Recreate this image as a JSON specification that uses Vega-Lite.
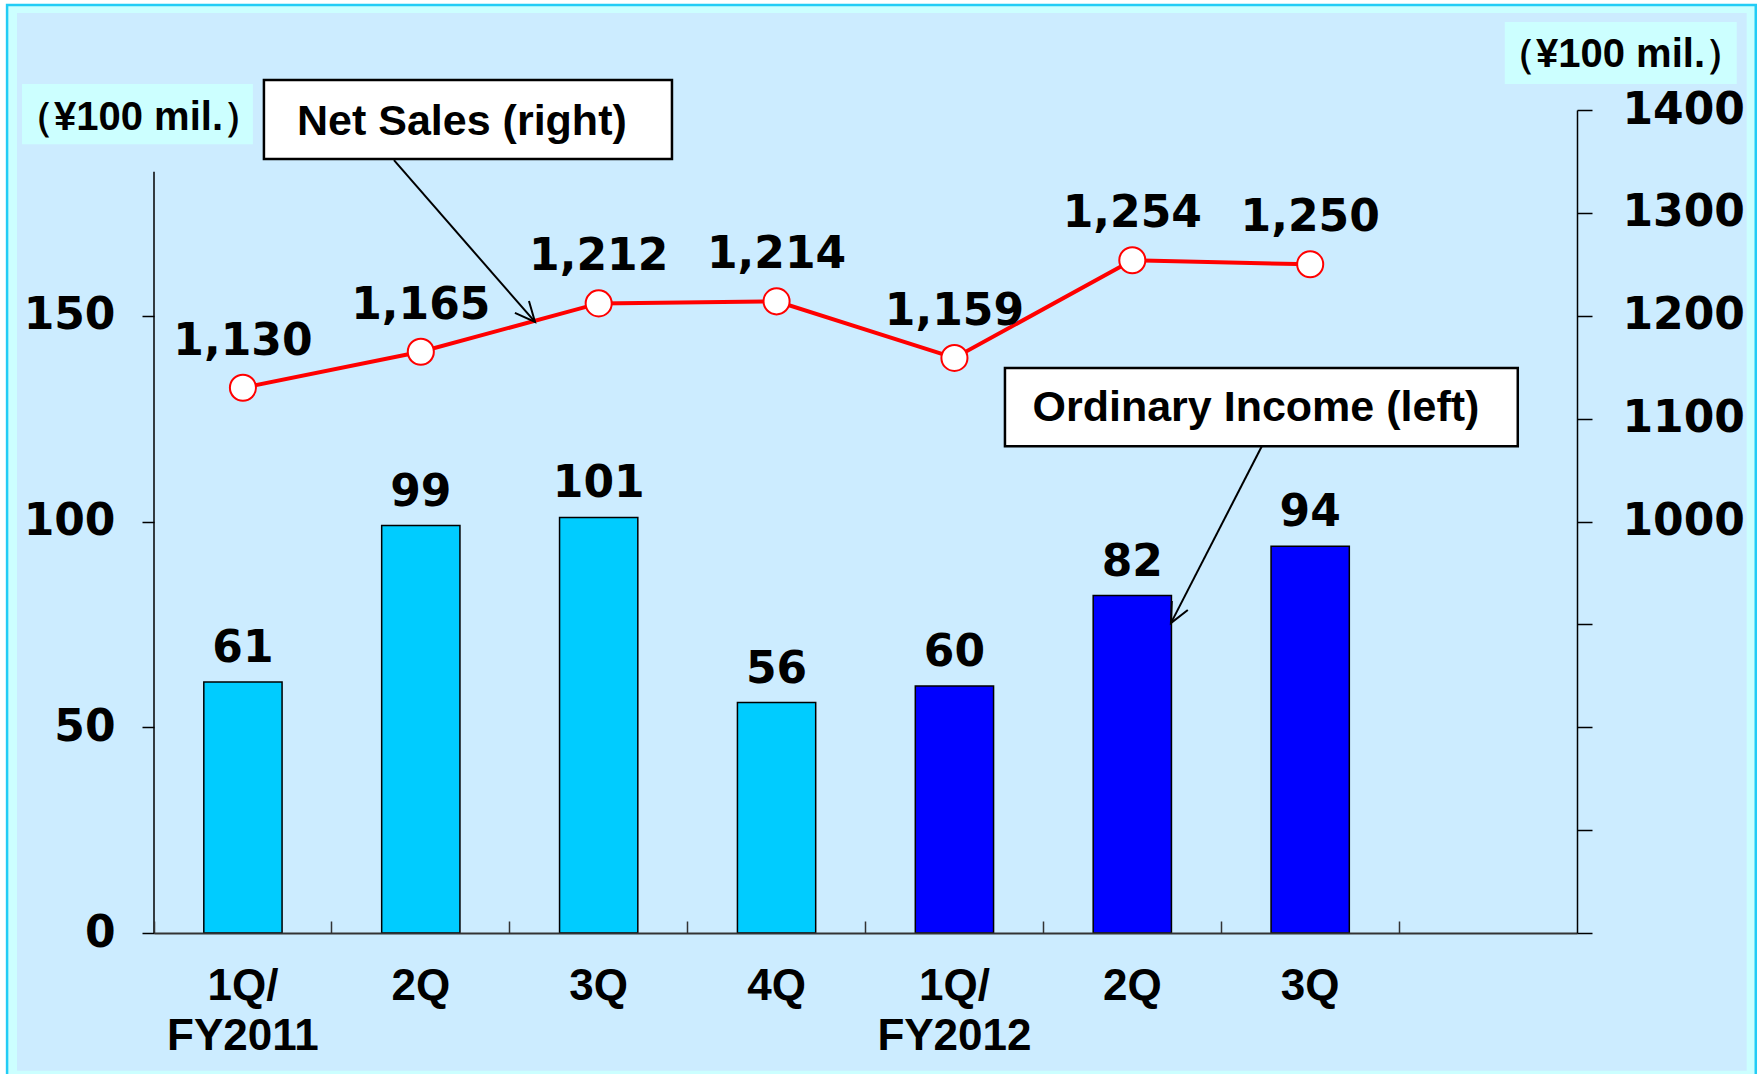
{
  "$schema": "https://vega.github.io/schema/vega-lite/v6.json",
  "width": 1423,
  "height": 823,
  "autosize": {"type": "none"},
  "padding": {"left": 154, "top": 110, "right": 183, "bottom": 141},
  "background": "white",
  "config": {"view": {"stroke": null}, "axis": {"grid": false}},
  "datasets": {
    "q": [
      {"quarter": "1Q/ FY2011", "fy": "FY2011", "income": 61, "sales": 1130},
      {"quarter": "2Q FY2011", "fy": "FY2011", "income": 99, "sales": 1165},
      {"quarter": "3Q FY2011", "fy": "FY2011", "income": 101, "sales": 1212},
      {"quarter": "4Q FY2011", "fy": "FY2011", "income": 56, "sales": 1214},
      {"quarter": "1Q/ FY2012", "fy": "FY2012", "income": 60, "sales": 1159},
      {"quarter": "2Q FY2012", "fy": "FY2012", "income": 82, "sales": 1254},
      {"quarter": "3Q FY2012", "fy": "FY2012", "income": 94, "sales": 1250}
    ],
    "frame": [
      {"kind": "outer", "x1": -0.826, "x2": 9.005, "y1": 225.5, "y2": -36.9},
      {"kind": "inner", "x1": -0.770, "x2": 8.954, "y1": 223.6, "y2": -33.5}
    ],
    "notes": [
      {"kind": "unitbox", "x1": -0.742, "x2": 0.556, "y1": 206.3, "y2": 191.7},
      {"kind": "unitbox", "x1": 7.594, "x2": 8.898, "y1": 221.4, "y2": 206.3},
      {"kind": "callout", "x1": 0.618, "x2": 2.912, "y1": 207.3, "y2": 188.1, "tx": 1.731, "ty": 197.2, "label": "Net Sales (right)"},
      {"kind": "callout", "x1": 4.784, "x2": 7.667, "y1": 137.3, "y2": 118.3, "tx": 6.195, "ty": 127.6, "label": "Ordinary Income (left)"},
      {"kind": "arrow", "id": "s1", "seq": 0, "x": 1.349, "y": 187.8},
      {"kind": "arrow", "id": "s1", "seq": 1, "x": 2.142, "y": 148.5},
      {"kind": "arrow", "id": "h1", "seq": 0, "x": 2.029, "y": 150.7},
      {"kind": "arrow", "id": "h1", "seq": 1, "x": 2.142, "y": 148.5},
      {"kind": "arrow", "id": "h1", "seq": 2, "x": 2.108, "y": 153.6},
      {"kind": "arrow", "id": "s2", "seq": 0, "x": 6.228, "y": 118.3},
      {"kind": "arrow", "id": "s2", "seq": 1, "x": 5.717, "y": 75.3},
      {"kind": "arrow", "id": "h2", "seq": 0, "x": 5.812, "y": 78.5},
      {"kind": "arrow", "id": "h2", "seq": 1, "x": 5.717, "y": 75.3},
      {"kind": "arrow", "id": "h2", "seq": 2, "x": 5.722, "y": 80.7},
      {"kind": "axisline", "x": 0, "y": 0, "yEnd": 185}
    ]
  },
  "layer": [
    {
      "data": {"name": "frame"},
      "encoding": {
        "x": {"field": "x1", "type": "quantitative", "scale": {"domain": [0, 8], "nice": false, "zero": false}, "axis": null},
        "x2": {"field": "x2"},
        "y": {"field": "y1", "type": "quantitative", "scale": {"domain": [0, 200], "nice": false, "zero": false}, "axis": null},
        "y2": {"field": "y2"}
      },
      "layer": [
        {
          "transform": [{"filter": "datum.kind == 'outer'"}],
          "mark": {"type": "rect", "fill": "#CCFFFF", "stroke": "#22CCF5", "strokeWidth": 2.5}
        },
        {
          "transform": [{"filter": "datum.kind == 'inner'"}],
          "mark": {"type": "rect", "fill": "#CCECFF"}
        }
      ]
    },
    {
      "data": {"name": "q"},
      "encoding": {
        "x": {
          "field": "quarter", "type": "nominal", "sort": null,
          "scale": {"domain": ["1Q/ FY2011", "2Q FY2011", "3Q FY2011", "4Q FY2011", "1Q/ FY2012", "2Q FY2012", "3Q FY2012", "4Q FY2012"], "paddingInner": 0, "paddingOuter": 0},
          "axis": {
            "title": null, "orient": "bottom", "bandPosition": 0,
            "tickSize": -12, "tickColor": "#333333", "tickWidth": 1.5,
            "domainColor": "#333333", "domainWidth": 2,
            "labelExpr": "datum.label == '4Q FY2012' ? '' : (indexof(datum.label, '/') >= 0 ? split(datum.label, ' ') : split(datum.label, ' ')[0])",
            "labelFont": "Liberation Sans", "labelFontWeight": "bold", "labelFontSize": 44, "labelColor": "black",
            "labelLineHeight": 50, "labelPadding": 43, "labelAngle": 0, "labelBaseline": "top", "labelAlign": "center",
            "labelOverlap": false, "labelBound": false, "labelFlush": false, "zindex": 1
          }
        },
        "y": {
          "field": "income", "type": "quantitative",
          "scale": {"domain": [0, 200], "nice": false},
          "axis": {
            "orient": "left", "values": [0, 50, 100, 150], "domain": false,
            "tickSize": 12, "tickColor": "black", "tickWidth": 1.5, "labelPadding": 27,
            "labelFont": "DejaVu Sans", "labelFontWeight": "bold", "labelFontSize": 44, "labelColor": "black",
            "title": "（¥100 mil.）", "titleAngle": 0, "titleX": -16, "titleY": 7,
            "titleAlign": "center", "titleBaseline": "middle",
            "titleFont": "Liberation Sans", "titleFontSize": 40, "titleFontWeight": "bold", "titleColor": "black",
            "zindex": 1
          }
        }
      },
      "layer": [
        {
          "mark": {"type": "bar", "width": {"band": 0.44}, "stroke": "black", "strokeWidth": 1.5},
          "encoding": {
            "color": {"field": "fy", "type": "nominal", "scale": {"domain": ["FY2011", "FY2012"], "range": ["#00CCFF", "#0000FF"]}, "legend": null}
          }
        },
        {
          "mark": {"type": "text", "font": "DejaVu Sans", "fontWeight": "bold", "fontSize": 44, "color": "black", "baseline": "alphabetic", "dy": -20},
          "encoding": {"text": {"field": "income", "type": "quantitative"}}
        }
      ]
    },
    {
      "data": {"name": "q"},
      "encoding": {
        "x": {
          "field": "quarter", "type": "nominal", "sort": null,
          "scale": {"domain": ["1Q/ FY2011", "2Q FY2011", "3Q FY2011", "4Q FY2011", "1Q/ FY2012", "2Q FY2012", "3Q FY2012", "4Q FY2012"], "paddingInner": 0, "paddingOuter": 0},
          "axis": null
        },
        "y": {
          "field": "sales", "type": "quantitative",
          "scale": {"domain": [600, 1400], "nice": false, "zero": false},
          "axis": {
            "orient": "right", "values": [600, 700, 800, 900, 1000, 1100, 1200, 1300, 1400],
            "labelExpr": "datum.value >= 1000 ? format(datum.value, 'd') : ''",
            "domainColor": "black", "domainWidth": 1.5,
            "tickSize": 15, "tickColor": "black", "tickWidth": 1.5, "labelPadding": 30,
            "labelFont": "DejaVu Sans", "labelFontWeight": "bold", "labelFontSize": 44, "labelColor": "black",
            "title": "（¥100 mil.）", "titleAngle": 0, "titleX": 43, "titleY": -56,
            "titleAlign": "center", "titleBaseline": "middle",
            "titleFont": "Liberation Sans", "titleFontSize": 40, "titleFontWeight": "bold", "titleColor": "black",
            "zindex": 1
          }
        }
      },
      "layer": [
        {"mark": {"type": "line", "color": "#FF0000", "strokeWidth": 4}},
        {"mark": {"type": "point", "filled": true, "fill": "white", "stroke": "#FF0000", "strokeWidth": 2, "size": 680, "opacity": 1}},
        {
          "mark": {"type": "text", "font": "DejaVu Sans", "fontWeight": "bold", "fontSize": 44, "color": "black", "baseline": "alphabetic", "dy": -33},
          "encoding": {"text": {"field": "sales", "type": "quantitative", "format": ","}}
        }
      ]
    },
    {
      "data": {"name": "notes"},
      "layer": [
        {
          "transform": [{"filter": "datum.kind == 'unitbox'"}],
          "mark": {"type": "rect", "fill": "#CCFFFF"},
          "encoding": {
            "x": {"field": "x1", "type": "quantitative", "scale": {"domain": [0, 8], "nice": false, "zero": false}, "axis": null},
            "x2": {"field": "x2"},
            "y": {"field": "y1", "type": "quantitative", "scale": {"domain": [0, 200], "nice": false, "zero": false}, "axis": null},
            "y2": {"field": "y2"}
          }
        },
        {
          "transform": [{"filter": "datum.kind == 'axisline'"}],
          "mark": {"type": "rule", "color": "black", "strokeWidth": 1.5},
          "encoding": {
            "x": {"field": "x", "type": "quantitative"},
            "y": {"field": "y", "type": "quantitative"},
            "y2": {"field": "yEnd"}
          }
        },
        {
          "transform": [{"filter": "datum.kind == 'callout'"}],
          "mark": {"type": "rect", "fill": "white", "stroke": "black", "strokeWidth": 2.5},
          "encoding": {
            "x": {"field": "x1", "type": "quantitative"},
            "x2": {"field": "x2"},
            "y": {"field": "y1", "type": "quantitative"},
            "y2": {"field": "y2"}
          }
        },
        {
          "transform": [{"filter": "datum.kind == 'callout'"}],
          "mark": {"type": "text", "font": "Liberation Sans", "fontWeight": "bold", "fontSize": 43, "color": "black", "align": "center", "baseline": "middle"},
          "encoding": {
            "x": {"field": "tx", "type": "quantitative"},
            "y": {"field": "ty", "type": "quantitative"},
            "text": {"field": "label"}
          }
        },
        {
          "transform": [{"filter": "datum.kind == 'arrow'"}],
          "mark": {"type": "line", "color": "black", "strokeWidth": 2},
          "encoding": {
            "x": {"field": "x", "type": "quantitative"},
            "y": {"field": "y", "type": "quantitative"},
            "detail": {"field": "id"},
            "order": {"field": "seq"}
          }
        }
      ]
    }
  ],
  "resolve": {"scale": {"x": "independent", "y": "independent"}}
}
